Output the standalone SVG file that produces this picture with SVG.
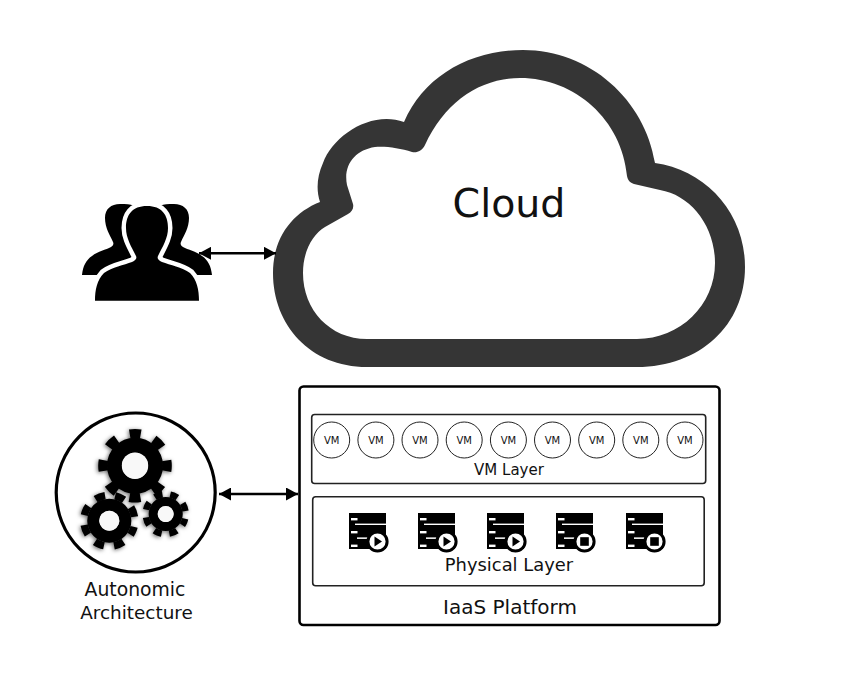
<svg xmlns="http://www.w3.org/2000/svg" xmlns:xlink="http://www.w3.org/1999/xlink" width="850" height="692" viewBox="0 0 850 692">
<style>
text{font-family:"DejaVu Sans","Liberation Sans",sans-serif;fill:#111;text-anchor:middle}
.vm circle{fill:#fff;stroke:#222;stroke-width:1}
.vm text{font-size:10px}
.layer{fill:#fff;stroke:#222;stroke-width:1.6}
.conn{stroke:#000;stroke-width:2.6;fill:none;marker-start:url(#ah);marker-end:url(#ah)}
.body{fill:none;stroke:#000}
.hole{fill:#f8f8f8}
</style>
<defs>
<marker id="ah" viewBox="0 0 12 13" refX="12" refY="6.5" markerUnits="userSpaceOnUse" markerWidth="12" markerHeight="13" orient="auto-start-reverse"><path d="M0 0L12 6.5L0 13z" fill="#000"/></marker>
<filter id="sh" x="-30%" y="-30%" width="160%" height="160%"><feDropShadow dx="-1" dy="1" stdDeviation="2.2" flood-color="#000" flood-opacity=".6"/></filter>
<g id="srv">
<rect x="0" y="0" width="37" height="36" fill="#000"/>
<g fill="#fff"><rect x="2" y="5" width="6.5" height="2.4"/><rect x="6" y="10.6" width="31" height="1.4"/><rect x="2" y="18" width="6.5" height="2.4"/><rect x="8" y="24.4" width="12" height="1.5"/><rect x="2" y="31.6" width="6.5" height="2.4"/></g>
<circle cx="28.5" cy="28.5" r="9.6" fill="#fff" stroke="#000" stroke-width="3"/>
</g>
<path id="play" d="M-3 -5L4.5 0L-3 5Z" fill="#000"/>
<rect id="stop" x="-4.3" y="-4.3" width="8.6" height="8.6" fill="#000"/>
</defs>
<rect width="850" height="692" fill="#fff"/>
<g id="cloud">
<path fill="#353535" fill-rule="evenodd" d="M367 367C310 367 273 325 273 273C273 238 292 213 320 202C316 190 317 176 323 163C333 135 372 110 404 122C424 76 470 50 523 50C590 50 645 100 655 163C705 170 745 212 745 267C745 325 700 367 637 367Z M367 339H637C680 339 715 305 715 263C715 225 690 195 660 190L634 184C629 182 628 180 627 176C622 120 575 78 520 78C480 78 445 102 425 145C422 151 417 153 412 152C400 148 385 146 375 147C355 150 343 165 347 185L353 204C354 208 352 212 348 214L325 227C312 235 303 252 303 273C303 310 330 339 367 339Z"/>
<text x="509" y="217" font-size="39.5">Cloud</text>
</g>
<g id="users">
<path fill="#000" d="M82 275C83 266 86 260 92 256C98 251 106 250 111 247C113 246 114 244 113 242C110 235 105 228 105 218C105 209 111 204 120 204C126 204 130 204 134 206L147 240L160 206C164 204 168 204 174 204C183 204 189 209 189 218C189 228 184 235 181 242C180 244 181 246 183 247C188 250 196 251 202 256C208 260 211 266 212 275Z"/>
<path fill="#000" stroke="#fff" stroke-width="9" stroke-linejoin="round" paint-order="stroke" d="M95 300.7H199C199 290 197 280 190 273C182 267 170 265 162 262C158 260 157 258 158 256C163 246 168 238 168 228C168 215 162 206 147 206C132 206 126 215 126 228C126 238 131 246 136 256C137 258 136 260 132 262C124 265 112 267 104 273C97 280 95 290 95 300.7Z"/>
</g>
<g id="autonomic">
<circle cx="135.7" cy="492.5" r="79.5" fill="#fff" stroke="#000" stroke-width="3.2"/>
<g filter="url(#sh)">
<g transform="translate(135 465.7)"><circle r="32" class="body" stroke-width="9.6" stroke-dasharray="11 14.13" stroke-dashoffset="5.5"/><circle r="20.5" class="body" stroke-width="15"/><circle r="13.2" class="hole"/></g>
<g transform="translate(109.3 520.7) rotate(22.5)"><circle r="25.5" class="body" stroke-width="7.4" stroke-dasharray="10 10.03" stroke-dashoffset="5"/><circle r="16" class="body" stroke-width="12"/><circle r="10" class="hole"/></g>
<g transform="translate(165.7 514) rotate(22.5)"><circle r="20" class="body" stroke-width="6.4" stroke-dasharray="8 7.71" stroke-dashoffset="4"/><circle r="12.5" class="body" stroke-width="9"/><circle r="8" class="hole"/></g>
</g>
<text font-size="18.8" x="135" y="596">Autonomic</text>
<text font-size="18.4" x="136.5" y="619">Architecture</text>
</g>
<g id="iaas">
<rect x="299.5" y="386.5" width="420" height="238.5" rx="4" fill="#fff" stroke="#000" stroke-width="2.6"/>
<text x="510" y="614" font-size="20">IaaS Platform</text>
</g>
<g id="vm-layer">
<rect class="layer" x="311.7" y="414.5" width="394" height="69" rx="3"/>
<g class="vm">
<circle cx="331.7" cy="440" r="18"/><text x="331.7" y="444">VM</text>
<circle cx="375.9" cy="440" r="18"/><text x="375.9" y="444">VM</text>
<circle cx="420" cy="440" r="18"/><text x="420" y="444">VM</text>
<circle cx="464.2" cy="440" r="18"/><text x="464.2" y="444">VM</text>
<circle cx="508.4" cy="440" r="18"/><text x="508.4" y="444">VM</text>
<circle cx="552.5" cy="440" r="18"/><text x="552.5" y="444">VM</text>
<circle cx="596.7" cy="440" r="18"/><text x="596.7" y="444">VM</text>
<circle cx="640.8" cy="440" r="18"/><text x="640.8" y="444">VM</text>
<circle cx="685" cy="440" r="18"/><text x="685" y="444">VM</text>
</g>
<text x="509" y="475" font-size="15">VM Layer</text>
</g>
<g id="physical-layer">
<rect class="layer" x="312.7" y="496.7" width="391.5" height="89" rx="3"/>
<g transform="translate(349 513)"><use xlink:href="#srv" href="#srv"/><use xlink:href="#play" href="#play" x="28.5" y="28.5"/></g>
<g transform="translate(418 513)"><use xlink:href="#srv" href="#srv"/><use xlink:href="#play" href="#play" x="28.5" y="28.5"/></g>
<g transform="translate(487 513)"><use xlink:href="#srv" href="#srv"/><use xlink:href="#play" href="#play" x="28.5" y="28.5"/></g>
<g transform="translate(556 513)"><use xlink:href="#srv" href="#srv"/><use xlink:href="#stop" href="#stop" x="28.5" y="28.5"/></g>
<g transform="translate(626 513)"><use xlink:href="#srv" href="#srv"/><use xlink:href="#stop" href="#stop" x="28.5" y="28.5"/></g>
<text x="509" y="571" font-size="17.9">Physical Layer</text>
</g>
<g id="connectors">
<path class="conn" d="M199 253.3H276"/>
<path class="conn" d="M219 494H298"/>
</g>
</svg>
